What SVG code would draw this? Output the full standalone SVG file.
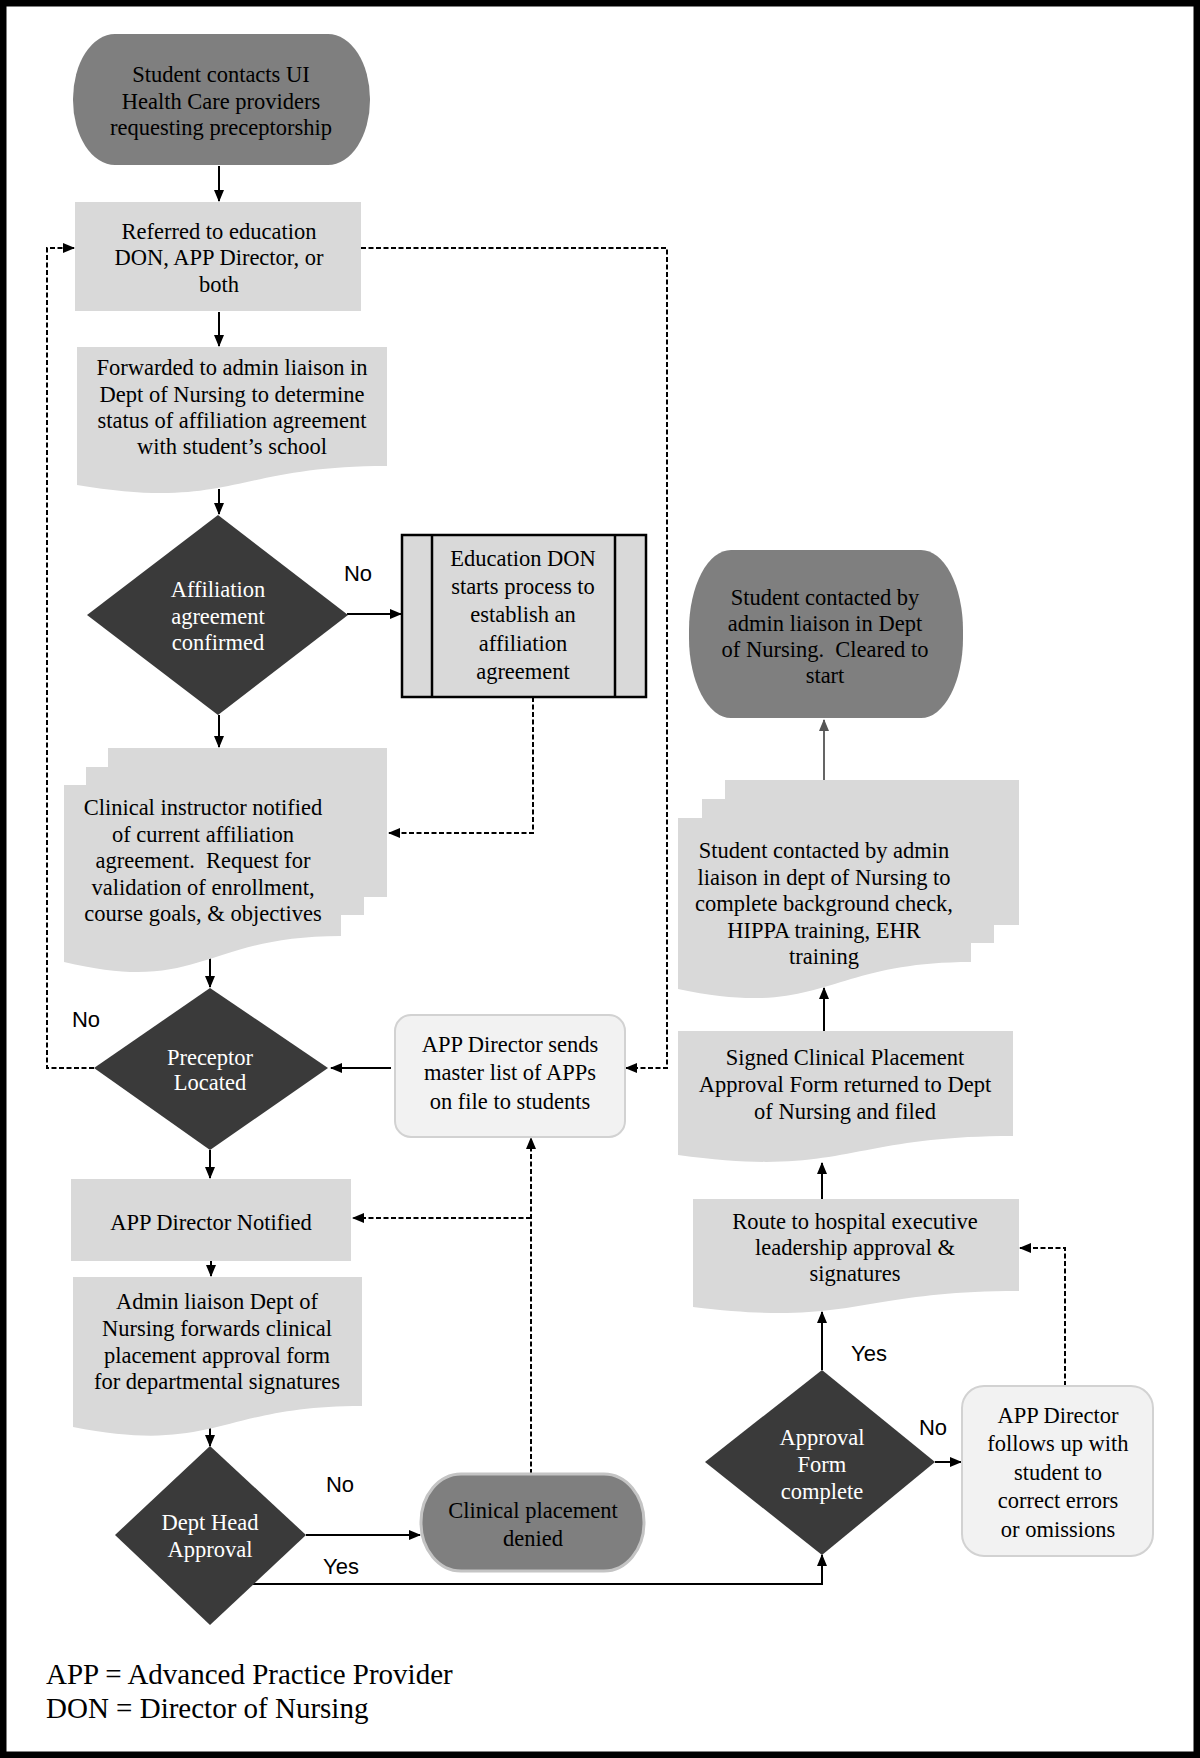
<svg xmlns="http://www.w3.org/2000/svg" width="1200" height="1758" viewBox="0 0 1200 1758">
<style>
.t{font-family:"Liberation Serif","Times New Roman",serif;font-size:22.5px;text-anchor:middle;fill:#000}
.w{fill:#fff}
.lbl{font-family:"Liberation Sans",Arial,sans-serif;font-size:22px;fill:#000;text-anchor:middle}
.leg{font-family:"Liberation Serif","Times New Roman",serif;font-size:29px;fill:#000}
.box{fill:#d9d9d9}
.dia{fill:#3a3a3a}
.term{fill:#7f7f7f}
.soft{fill:#f2f2f2;stroke:#d2d2d2;stroke-width:2}
.ln{stroke:#000;stroke-width:2;fill:none}
.dash{stroke:#000;stroke-width:2;fill:none;stroke-dasharray:5 2.5}
</style>
<defs>
<marker id="ah" markerUnits="userSpaceOnUse" markerWidth="12" markerHeight="10" refX="11" refY="5" orient="auto">
<path d="M0,0 L12,5 L0,10 z" fill="#000"/>
</marker>
<marker id="ahg" markerUnits="userSpaceOnUse" markerWidth="12" markerHeight="10" refX="11" refY="5" orient="auto">
<path d="M0,0 L12,5 L0,10 z" fill="#555"/>
</marker>
</defs>
<rect x="3" y="3" width="1194" height="1752" fill="#fff" stroke="#000" stroke-width="7"/>

<g id="connectors">
<path class="ln" d="M219,166 V201" marker-end="url(#ah)"/>
<path class="ln" d="M219,312 V346" marker-end="url(#ah)"/>
<path class="ln" d="M219,489 V514" marker-end="url(#ah)"/>
<path class="ln" d="M347,614 H401" marker-end="url(#ah)"/>
<path class="ln" d="M219,715 V747" marker-end="url(#ah)"/>
<path class="ln" d="M210,958 V987" marker-end="url(#ah)"/>
<path class="ln" d="M391,1068 H331" marker-end="url(#ah)"/>
<path class="ln" d="M210,1150 V1178" marker-end="url(#ah)"/>
<path class="ln" d="M211,1261 V1276" marker-end="url(#ah)"/>
<path class="ln" d="M210,1428 V1446" marker-end="url(#ah)"/>
<path class="ln" d="M306,1535 H420" marker-end="url(#ah)"/>
<path class="ln" d="M253,1584 H822 V1555" marker-end="url(#ah)"/>
<path class="ln" d="M822,1370 V1312" marker-end="url(#ah)"/>
<path class="ln" d="M935,1462 H961" marker-end="url(#ah)"/>
<path class="ln" d="M822,1199 V1163" marker-end="url(#ah)"/>
<path class="ln" d="M824,1031 V988" marker-end="url(#ah)"/>
<path d="M824,780 V720" stroke="#555" stroke-width="1.8" fill="none" marker-end="url(#ahg)"/>
<path class="dash" d="M94,1068 H47 V248 H74" marker-end="url(#ah)"/>
<path class="dash" d="M361,248 H667 V1068 H626" marker-end="url(#ah)"/>
<path class="dash" d="M533,697 V833 H389" marker-end="url(#ah)"/>
<path class="dash" d="M531,1474 V1138" marker-end="url(#ah)"/>
<path class="dash" d="M531,1218 H353" marker-end="url(#ah)"/>
<path class="dash" d="M1065,1386 V1248 H1020" stroke-dasharray="7 4" marker-end="url(#ah)"/>
<text class="lbl" x="358" y="581">No</text>
<text class="lbl" x="86" y="1027">No</text>
<text class="lbl" x="340" y="1492">No</text>
<text class="lbl" x="341" y="1574">Yes</text>
<text class="lbl" x="869" y="1361">Yes</text>
<text class="lbl" x="933" y="1435">No</text>
</g>

<g id="start">
<rect class="term" x="73" y="34" width="297" height="131" rx="42" ry="65"/>
<text class="t" x="221" y="82">Student contacts UI</text>
<text class="t" x="221" y="109">Health Care providers</text>
<text class="t" x="221" y="135">requesting preceptorship</text>
</g>

<g id="referred">
<rect class="box" x="75" y="202" width="286" height="109"/>
<text class="t" x="219" y="239">Referred to education</text>
<text class="t" x="219" y="265">DON, APP Director, or</text>
<text class="t" x="219" y="292">both</text>
</g>

<g id="forwarded">
<path class="box" d="M77,347 H387 V466 C232,466 232,511 77,485 Z"/>
<text class="t" x="232" y="375">Forwarded to admin liaison in</text>
<text class="t" x="232" y="402">Dept of Nursing to determine</text>
<text class="t" x="232" y="428">status of affiliation agreement</text>
<text class="t" x="232" y="454">with student’s school</text>
</g>

<g id="affiliation-decision">
<polygon class="dia" points="218,515 348,615 218,715 87,615"/>
<text class="t w" x="218" y="597">Affiliation</text>
<text class="t w" x="218" y="624">agreement</text>
<text class="t w" x="218" y="650">confirmed</text>
</g>

<g id="education-don">
<rect class="box" x="402" y="535" width="244" height="162" stroke="#000" stroke-width="2.5"/>
<line x1="432" y1="535" x2="432" y2="697" stroke="#000" stroke-width="2.5"/>
<line x1="615" y1="535" x2="615" y2="697" stroke="#000" stroke-width="2.5"/>
<text class="t" x="523" y="566">Education DON</text>
<text class="t" x="523" y="594">starts process to</text>
<text class="t" x="523" y="622">establish an</text>
<text class="t" x="523" y="651">affiliation</text>
<text class="t" x="523" y="679">agreement</text>
</g>

<g id="clinical-instructor">
<path class="box" d="M108,748 H387 V897 H364 V915 H341 V936 C202,936 202,995 64,962 V785 H86 V767 H108 Z"/>
<text class="t" x="203" y="815">Clinical instructor notified</text>
<text class="t" x="203" y="842">of current affiliation</text>
<text class="t" x="203" y="868" xml:space="preserve">agreement.  Request for</text>
<text class="t" x="203" y="895">validation of enrollment,</text>
<text class="t" x="203" y="921">course goals, &amp; objectives</text>
</g>

<g id="preceptor-decision">
<polygon class="dia" points="210,988 328,1068 210,1150 94,1068"/>
<text class="t w" x="210" y="1065">Preceptor</text>
<text class="t w" x="210" y="1090">Located</text>
</g>

<g id="app-sends">
<rect class="soft" x="395" y="1015" width="230" height="122" rx="16"/>
<text class="t" x="510" y="1052">APP Director sends</text>
<text class="t" x="510" y="1080">master list of APPs</text>
<text class="t" x="510" y="1109">on file to students</text>
</g>

<g id="app-notified">
<rect class="box" x="71" y="1179" width="280" height="82"/>
<text class="t" x="211" y="1230">APP Director Notified</text>
</g>

<g id="admin-liaison">
<path class="box" d="M73,1277 H362 V1406 C217,1406 217,1455 73,1427 Z"/>
<text class="t" x="217" y="1309">Admin liaison Dept of</text>
<text class="t" x="217" y="1336">Nursing forwards clinical</text>
<text class="t" x="217" y="1363">placement approval form</text>
<text class="t" x="217" y="1389">for departmental signatures</text>
</g>

<g id="dept-head-decision">
<polygon class="dia" points="210,1446 306,1535 210,1625 115,1535"/>
<text class="t w" x="210" y="1530">Dept Head</text>
<text class="t w" x="210" y="1557">Approval</text>
</g>

<g id="denied">
<rect class="term" x="421" y="1474" width="223" height="97" rx="40" ry="48" stroke="#c4c4c4" stroke-width="3"/>
<text class="t" x="533" y="1518">Clinical placement</text>
<text class="t" x="533" y="1546">denied</text>
</g>

<g id="approval-decision">
<polygon class="dia" points="822,1370 935,1462 822,1555 705,1462"/>
<text class="t w" x="822" y="1445">Approval</text>
<text class="t w" x="822" y="1472">Form</text>
<text class="t w" x="822" y="1499">complete</text>
</g>

<g id="app-follows">
<rect class="soft" x="962" y="1386" width="191" height="170" rx="22"/>
<text class="t" x="1058" y="1423">APP Director</text>
<text class="t" x="1058" y="1451">follows up with</text>
<text class="t" x="1058" y="1480">student to</text>
<text class="t" x="1058" y="1508">correct errors</text>
<text class="t" x="1058" y="1537">or omissions</text>
</g>

<g id="route">
<path class="box" d="M693,1199 H1019 V1291 C856,1291 856,1327 693,1307 Z"/>
<text class="t" x="855" y="1229">Route to hospital executive</text>
<text class="t" x="855" y="1255">leadership approval &amp;</text>
<text class="t" x="855" y="1281">signatures</text>
</g>

<g id="signed">
<path class="box" d="M678,1031 H1013 V1136 C845,1136 845,1178 678,1155 Z"/>
<text class="t" x="845" y="1065">Signed Clinical Placement</text>
<text class="t" x="845" y="1092">Approval Form returned to Dept</text>
<text class="t" x="845" y="1119">of Nursing and filed</text>
</g>

<g id="background-check">
<path class="box" d="M725,780 H1019 V925 H994 V943 H971 V962 C824,962 824,1020 678,989 V818 H702 V799 H725 Z"/>
<text class="t" x="824" y="858">Student contacted by admin</text>
<text class="t" x="824" y="885">liaison in dept of Nursing to</text>
<text class="t" x="824" y="911">complete background check,</text>
<text class="t" x="824" y="938">HIPPA training, EHR</text>
<text class="t" x="824" y="964">training</text>
</g>

<g id="cleared">
<rect class="term" x="689" y="550" width="274" height="168" rx="42" ry="80"/>
<text class="t" x="825" y="605">Student contacted by</text>
<text class="t" x="825" y="631">admin liaison in Dept</text>
<text class="t" x="825" y="657" xml:space="preserve">of Nursing.  Cleared to</text>
<text class="t" x="825" y="683">start</text>
</g>

<g id="legend">
<text class="leg" x="46" y="1684">APP = Advanced Practice Provider</text>
<text class="leg" x="46" y="1718">DON = Director of Nursing</text>
</g>
</svg>
